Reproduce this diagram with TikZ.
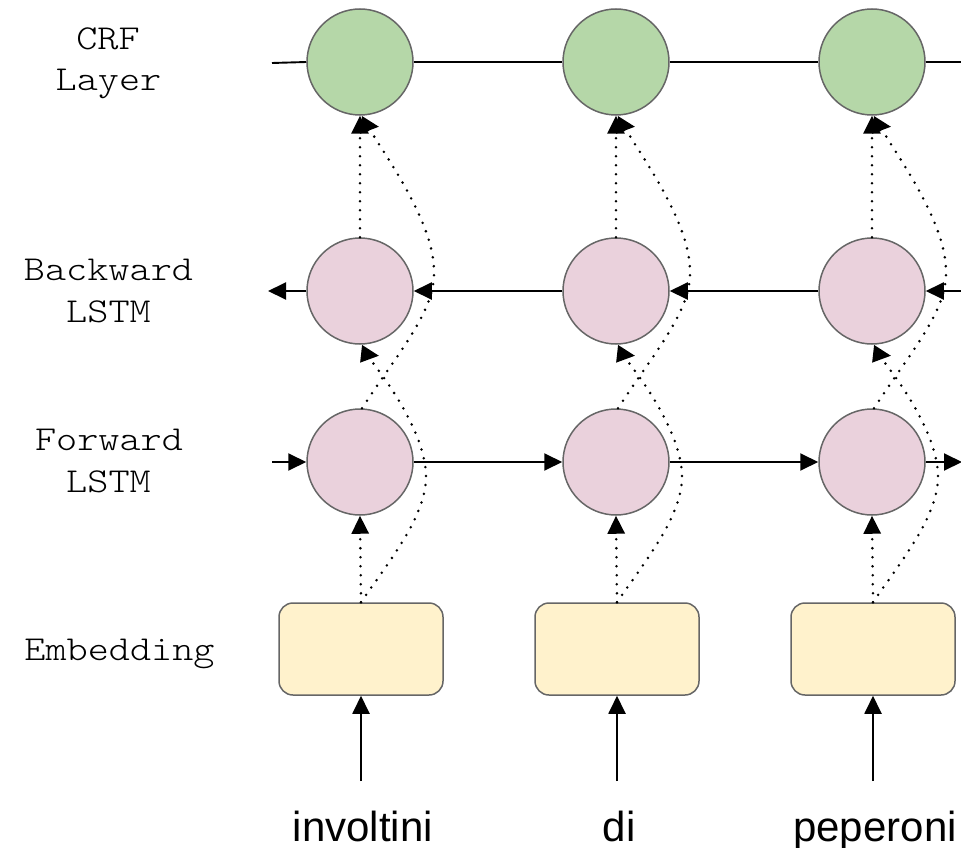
\documentclass[tikz,border=0pt]{standalone}
\usepackage{fontspec}
\setmainfont{Liberation Sans}
\newfontfamily\labelfont[FakeStretch=1.15]{lmmonolt10-regular.otf}
\usetikzlibrary{arrows.meta,calc}

\definecolor{crfgreen}{HTML}{B5D7A8}
\definecolor{lstmpink}{HTML}{EAD1DC}
\definecolor{embyellow}{HTML}{FFF2CC}
\definecolor{bordergray}{HTML}{666666}

\tikzset{
  crfcirc/.style={circle, draw=bordergray, line width=1.5pt, fill=crfgreen,
    minimum size=106pt, inner sep=0pt},
  lstmcirc/.style={crfcirc, fill=lstmpink},
  embbox/.style={rectangle, rounded corners=14pt, draw=bordergray, line width=1.5pt,
    fill=embyellow, minimum width=164pt, minimum height=92pt, inner sep=0pt},
  layertext/.style={font=\labelfont\fontsize{35}{41}\selectfont, anchor=base, inner sep=0pt},
  wordtext/.style={font=\fontsize{42}{48}\selectfont, anchor=base, inner sep=0pt},
  link/.style={line width=1.9pt, draw=black},
  tiphead/.style={-{Triangle[length=18pt,width=17pt]}},
  linkarrow/.style={link, tiphead},
  dotlink/.style={line width=2.8pt, draw=black, line cap=round,
    dash pattern=on 0pt off 9pt, tiphead},
}

\begin{document}
\begin{tikzpicture}[x=1pt,y=-1pt]
\path[use as bounding box] (0,0) rectangle (961,848);

% layer names
\node[layertext] (labcrf)  at (108,50)  {CRF};
\node[layertext] (labcrfb) at (108.5,91) {Layer};
\node[layertext] (labbw)   at (108.5,280) {Backward};
\node[layertext] (labbwb)  at (108.5,322) {LSTM};
\node[layertext] (labfw)   at (109,450) {Forward};
\node[layertext] (labfwb)  at (108.5,492) {LSTM};
\node[layertext] (labemb)  at (119.5,660) {Embedding};

% one column per token
\foreach \i/\c/\w in {1/360/involtini, 2/616/di, 3/872/peperoni} {
  \node[crfcirc]  (crf\i) at (\c,62)  {};
  \node[lstmcirc] (bw\i)  at (\c,291) {};
  \node[lstmcirc] (fw\i)  at (\c,462) {};
  \node[embbox]   (emb\i) at (\c+1,649) {};
  \node[wordtext] (w\i)   at (\c+3,841) {\w};
  \coordinate (in\i) at (\c+1,781);
}

% free ends of the recurrent chains
\coordinate (crfL) at (272,63);
\coordinate (crfR) at (962,62);
\coordinate (bwL)  at (268,291);
\coordinate (bwR)  at (962,291);
\coordinate (fwL)  at (272,462);
\coordinate (fwR)  at (962,462);

% CRF chain
\draw[link] (crfL) -- (crf1.west);
\draw[link] (crf1.east) -- (crf2.west);
\draw[link] (crf2.east) -- (crf3.west);
\draw[link] (crf3.east) -- (crfR);

% backward chain (right to left)
\draw[linkarrow] (bwR) -- (bw3.east);
\draw[linkarrow] (bw3.west) -- (bw2.east);
\draw[linkarrow] (bw2.west) -- (bw1.east);
\draw[linkarrow] (bw1.west) -- (bwL);

% forward chain (left to right)
\draw[linkarrow] (fwL) -- (fw1.west);
\draw[linkarrow] (fw1.east) -- (fw2.west);
\draw[linkarrow] (fw2.east) -- (fw3.west);
\draw[linkarrow] (fw3.east) -- (fwR);

\foreach \i/\c in {1/360, 2/616, 3/872} {
  % token into embedding
  \draw[linkarrow] (in\i) -- (emb\i.south);
  % embedding into forward LSTM
  \draw[dotlink] (emb\i.north) -- (fw\i.south);
  % backward LSTM into CRF
  \draw[dotlink] (bw\i.north) -- (crf\i.south);
  % embedding into backward LSTM
  \draw[dotlink] (emb\i.north)
    .. controls (\c+30,560) and (\c+67,515) .. (\c+66,475)
    .. controls (\c+65,435) and (\c+30,385) .. (\c+13,363)
    -- (\c+3,354) -- ($(bw\i.south)+(19,11)$);
  % forward LSTM into CRF
  \draw[dotlink] ($(fw\i.north)+(2,0)$)
    .. controls (\c+40,350) and (\c+76,310) .. (\c+74,270)
    .. controls (\c+73,225) and (\c+35,170) .. (\c+12,133)
    -- (\c+2,125) -- ($(crf\i.south)+(19,11)$);
}
\end{tikzpicture}
\end{document}
